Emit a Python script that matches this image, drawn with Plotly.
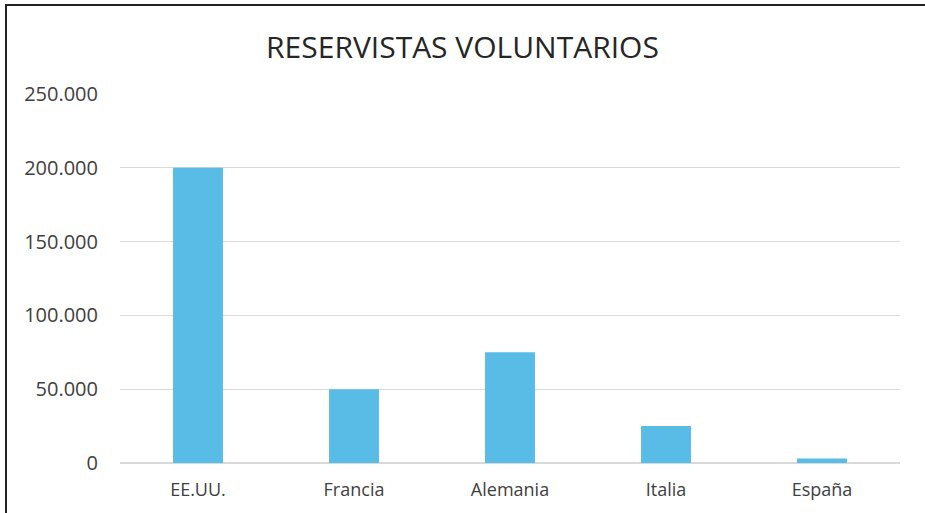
import plotly.graph_objects as go

categories = ["EE.UU.", "Francia", "Alemania", "Italia", "España"]
values = [200000, 50000, 75000, 25000, 3000]
y_ticks = [0, 50000, 100000, 150000, 200000, 250000]
title_text = "RESERVISTAS VOLUNTARIOS"

fig = go.Figure(go.Bar(x=categories, y=values, marker=dict(color="#58BCE7", line=dict(width=0))))

W, H = 925, 513
L, R, T, B = 120, 25, 94, 50

fig.update_layout(
    width=W, height=H,
    margin=dict(l=L, r=R, t=T, b=B, pad=0),
    paper_bgcolor="white", plot_bgcolor="white",
    bargap=0.68,
    separators=",.",
    showlegend=False,
    font=dict(family="Open Sans", color="#404040"),
    title=dict(text=title_text, x=0.5, xanchor="center", y=1 - 47 / H, yanchor="middle",
               font=dict(family="Open Sans", size=30, color="#262626")),
    xaxis=dict(showgrid=False, showline=False, ticks="", ticklabelstandoff=14,
               tickfont=dict(size=18, color="#404040")),
    yaxis=dict(range=[0, 250000], tickvals=y_ticks, tickformat=",d", showgrid=True,
               gridcolor="#d9d9d9", gridwidth=1, zeroline=True, zerolinecolor="#d9d9d9",
               ticks="", ticklabelstandoff=21, tickfont=dict(size=20, color="#404040")),
)

# page frame lines (left and top)
pw = W - L - R
ph = H - T - B
def px_to_paper_x(px):
    return (px - L) / pw
def px_to_paper_y(py):
    return (H - B - py) / ph
fig.add_shape(type="line", xref="paper", yref="paper",
              x0=px_to_paper_x(6), x1=px_to_paper_x(6), y0=px_to_paper_y(5), y1=px_to_paper_y(513),
              line=dict(color="#222222", width=2))
fig.add_shape(type="line", xref="paper", yref="paper",
              x0=px_to_paper_x(5), x1=px_to_paper_x(925), y0=px_to_paper_y(5), y1=px_to_paper_y(5),
              line=dict(color="#222222", width=2))

fig.write_html("out.html", config={"displayModeBar": False})

# remove default page margin so the figure sits at the window's top-left corner
with open("out.html", encoding="utf-8") as f:
    html = f.read()
html = html.replace("<head>", "<head><style>html,body{margin:0;padding:0;overflow:hidden;}</style>", 1)
with open("out.html", "w", encoding="utf-8") as f:
    f.write(html)
